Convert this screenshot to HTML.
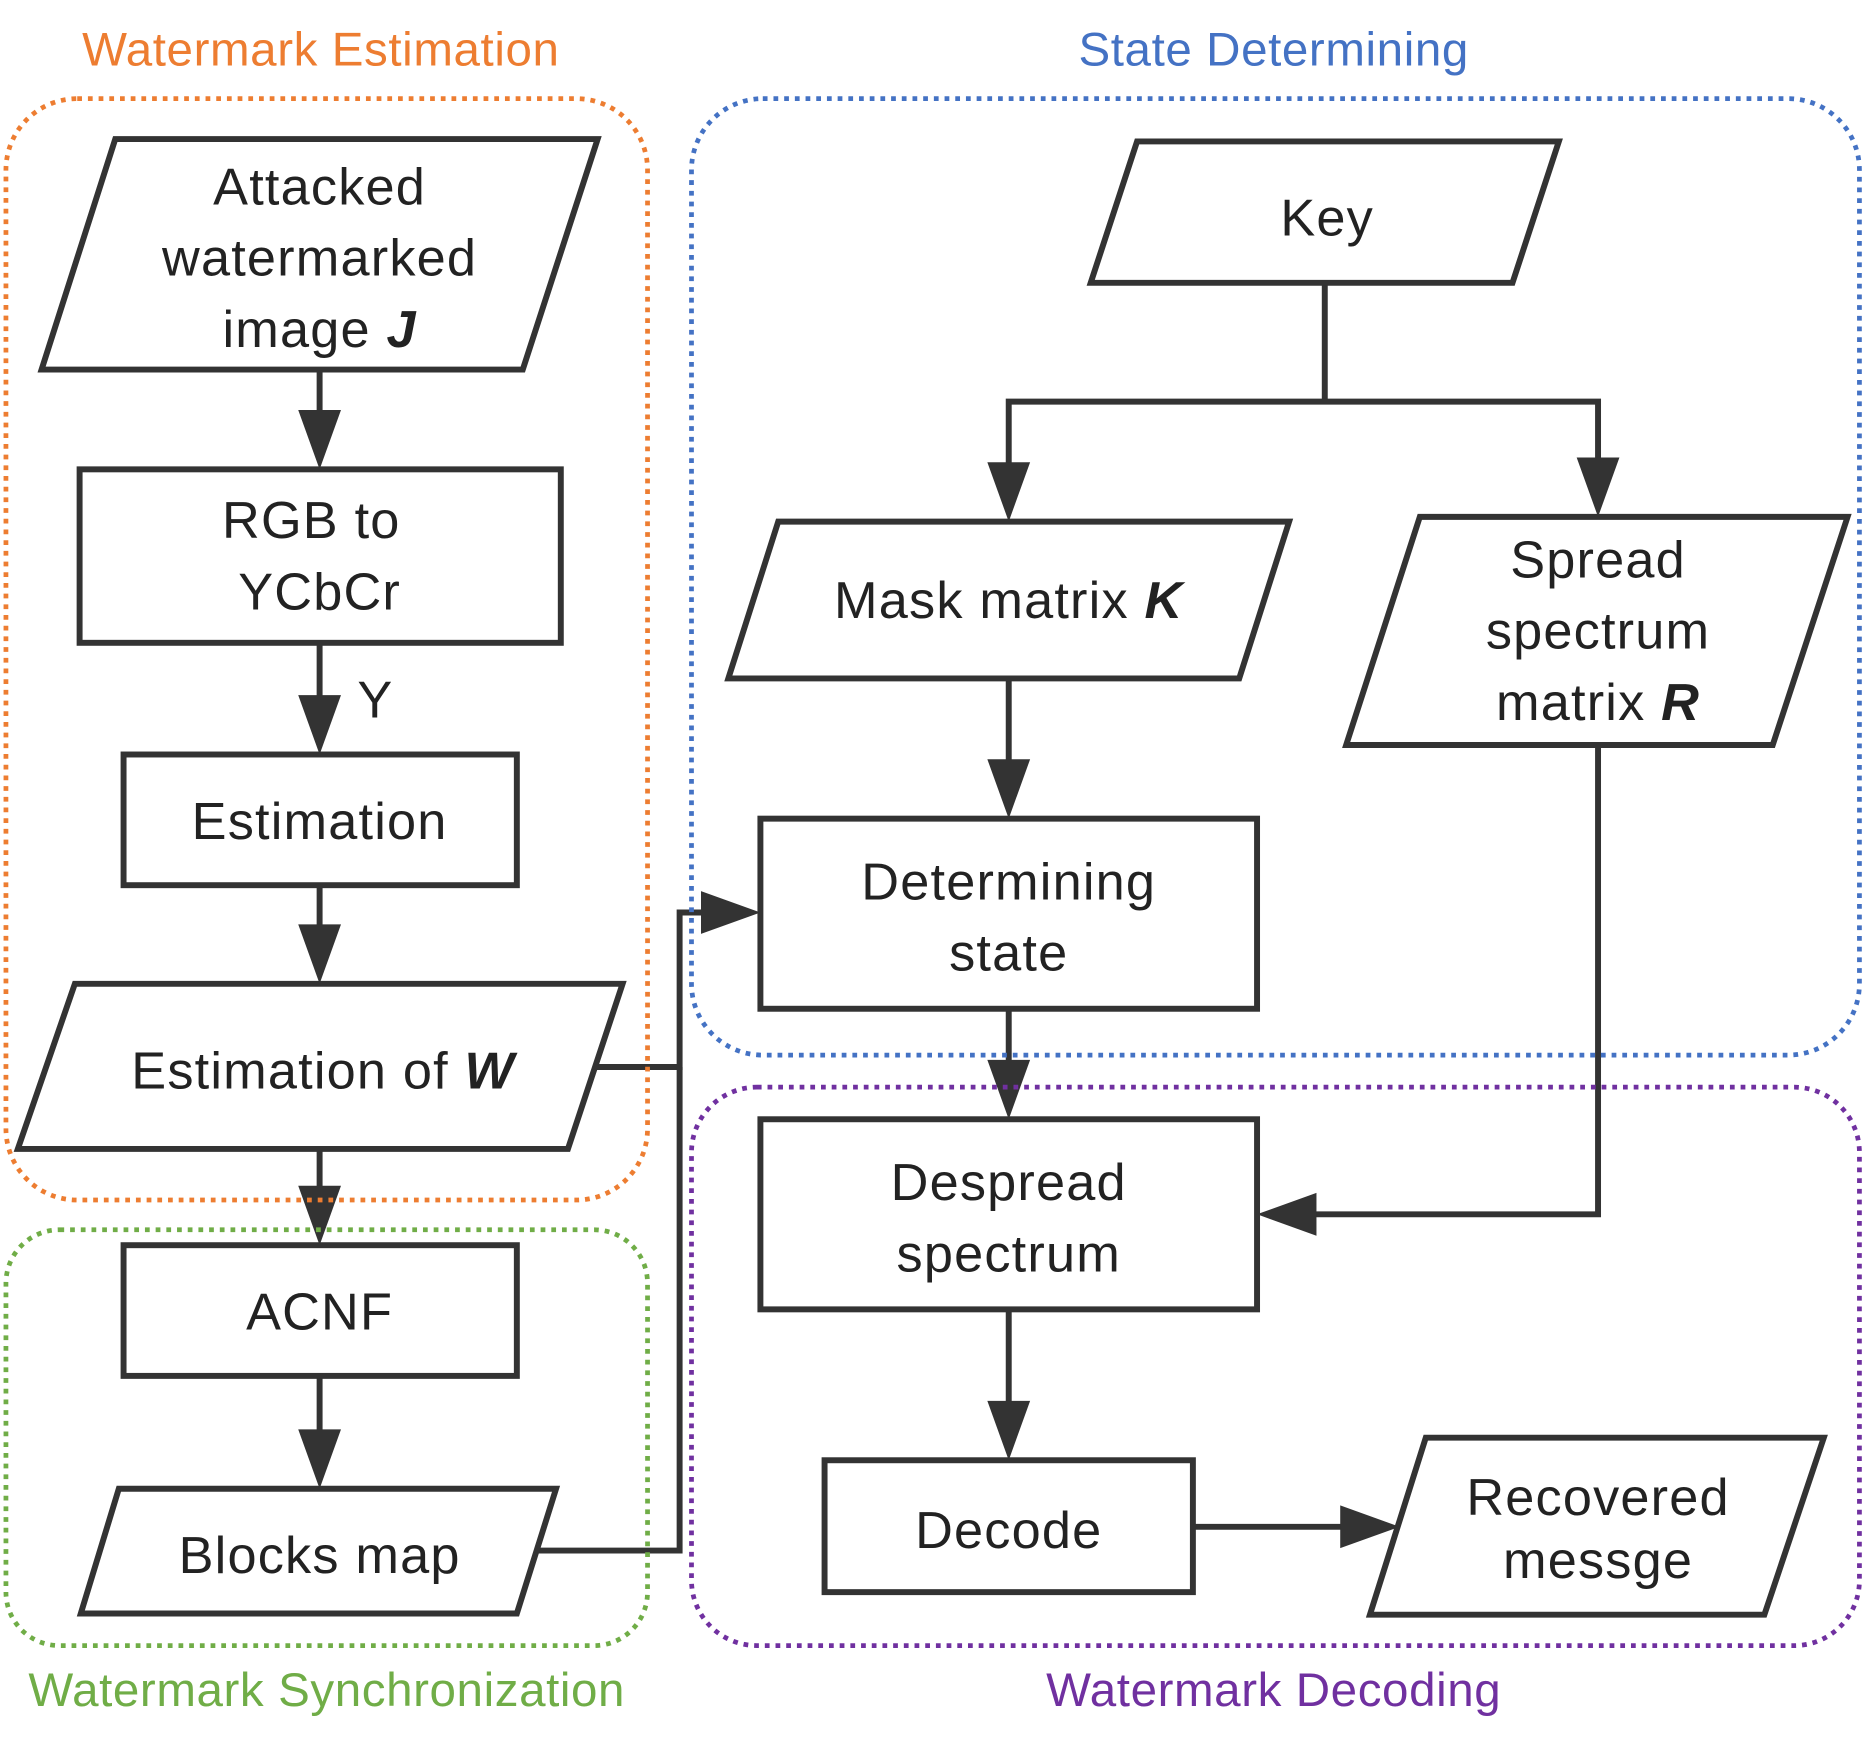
<!DOCTYPE html>
<html><head><meta charset="utf-8"><style>
html,body{margin:0;padding:0;background:#fff;}
svg{display:block;}
text{font-family:"Liberation Sans","DejaVu Sans",sans-serif;}
</style></head><body>
<svg width="1863" height="1749" viewBox="0 0 1568 1472" xmlns="http://www.w3.org/2000/svg">
<g font-size="40" text-anchor="middle" letter-spacing="0.5">
<text x="270" y="55" fill="#ED7D31">Watermark Estimation</text>
<text x="1072" y="55" fill="#4472C4">State Determining</text>
<text x="275" y="1436" fill="#70AD47">Watermark Synchronization</text>
<text x="1072" y="1436" fill="#7030A0">Watermark Decoding</text>
</g>
<!-- connectors -->
<g fill="none" stroke="#333" stroke-width="5">
<line x1="269" y1="311" x2="269" y2="350"/>
<line x1="269" y1="541" x2="269" y2="590"/>
<line x1="269" y1="745" x2="269" y2="783"/>
<line x1="269" y1="967" x2="269" y2="1003"/>
<line x1="269" y1="1158" x2="269" y2="1208"/>
<polyline points="1115,238 1115,338"/>
<polyline points="849,394 849,338 1345,338 1345,390"/>
<line x1="849" y1="571" x2="849" y2="644"/>
<line x1="849" y1="849" x2="849" y2="897"/>
<line x1="849" y1="1102" x2="849" y2="1184"/>
<line x1="1004" y1="1285" x2="1133" y2="1285"/>
<polyline points="1345,627 1345,1022 1103,1022"/>
<polyline points="500,898 572,898 572,768 595,768"/>
<polyline points="452,1305 572,1305 572,898"/>
</g>
<g fill="#333">
<polygon points="251,345 287,345 269,395"/>
<polygon points="251,585 287,585 269,635"/>
<polygon points="251,778 287,778 269,828"/>
<polygon points="251,998 287,998 269,1048"/>
<polygon points="251,1203 287,1203 269,1253"/>
<polygon points="831,389 867,389 849,439"/>
<polygon points="1327,385 1363,385 1345,435"/>
<polygon points="831,639 867,639 849,689"/>
<polygon points="831,892 867,892 849,942"/>
<polygon points="831,1179 867,1179 849,1229"/>
<polygon points="1128,1267 1128,1303 1178,1285"/>
<polygon points="1108,1004 1108,1040 1058,1022"/>
<polygon points="590,750 590,786 640,768"/>
</g>
<!-- group boxes -->
<g fill="none" stroke-width="4" stroke-dasharray="4 5">
<rect x="5" y="83" width="540" height="927" rx="60" stroke="#ED7D31"/>
<rect x="582" y="83" width="983" height="805" rx="60" stroke="#4472C4"/>
<rect x="5" y="1035" width="540" height="350" rx="45" stroke="#70AD47"/>
<rect x="582" y="915" width="983" height="470" rx="55" stroke="#7030A0"/>
</g>
<!-- nodes -->
<g fill="#fff" stroke="#333" stroke-width="5">
<polygon points="97,117 503,117 440,311 35,311"/>
<rect x="67" y="395" width="405" height="146"/>
<rect x="104" y="635" width="331" height="110"/>
<polygon points="63,828 524,828 478,967 15,967"/>
<rect x="104" y="1048" width="331" height="110"/>
<polygon points="100,1253 468,1253 435,1358 68,1358"/>
<polygon points="957,119 1312,119 1273,238 918,238"/>
<polygon points="655,439 1085,439 1043,571 613,571"/>
<polygon points="1195,435 1555,435 1492,627 1133,627"/>
<rect x="640" y="689" width="418" height="160"/>
<rect x="640" y="942" width="418" height="160"/>
<rect x="694" y="1229" width="310" height="111"/>
<polygon points="1200,1210 1535,1210 1485,1359 1153,1359"/>
</g>
<g font-size="44" fill="#222" text-anchor="middle" letter-spacing="1">
<text x="269" y="172">Attacked</text>
<text x="269" y="232">watermarked</text>
<text x="269" y="292">image <tspan font-weight="bold" font-style="italic">J</tspan></text>
<text x="262" y="453">RGB to</text>
<text x="269" y="513">YCbCr</text>
<text x="316" y="604">Y</text>
<text x="269" y="706">Estimation</text>
<text x="272" y="916">Estimation of  <tspan font-weight="bold" font-style="italic">W</tspan></text>
<text x="269" y="1119">ACNF</text>
<text x="269" y="1324">Blocks map</text>
<text x="1117" y="198">Key</text>
<text x="849" y="520">Mask matrix <tspan font-weight="bold" font-style="italic">K</tspan></text>
<text x="1345" y="486">Spread</text>
<text x="1345" y="546">spectrum</text>
<text x="1345" y="606">matrix <tspan font-weight="bold" font-style="italic">R</tspan></text>
<text x="849" y="757">Determining</text>
<text x="849" y="817">state</text>
<text x="849" y="1010">Despread</text>
<text x="849" y="1070">spectrum</text>
<text x="849" y="1303">Decode</text>
<text x="1345" y="1275">Recovered</text>
<text x="1345" y="1328">messge</text>
</g>
</svg>
</body></html>
